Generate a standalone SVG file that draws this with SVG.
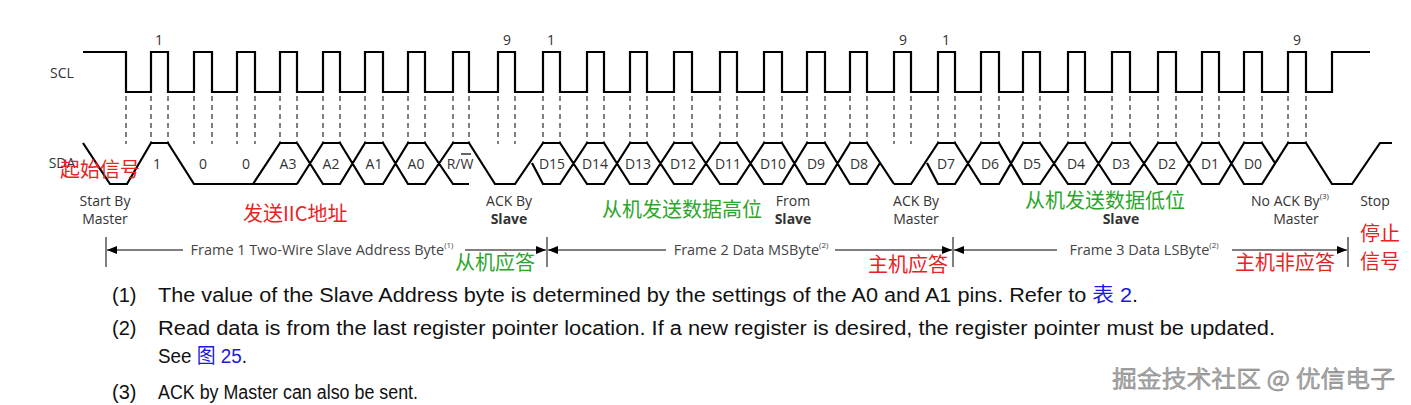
<svg xmlns="http://www.w3.org/2000/svg" width="1411" height="405" viewBox="0 0 1411 405">
<style>
.w{fill:none;stroke:#000;stroke-width:2.2;stroke-linejoin:miter}
.d{fill:none;stroke:#000;stroke-width:1;stroke-dasharray:5,4}
.t{font-family:"Open Sans","DejaVu Sans",sans-serif;font-size:14px;fill:#333;text-anchor:middle}
.b{font-weight:bold}
.f{font-family:"Open Sans","DejaVu Sans",sans-serif;font-size:14.5px;fill:#444;text-anchor:middle}
.s{font-size:8px}
.r{font-family:"Noto Sans CJK SC",sans-serif;font-size:20px;fill:#e8231f}
.g{font-family:"Noto Sans CJK SC",sans-serif;font-size:20px;fill:#2aa62a}
.n{font-family:"Liberation Sans","Noto Sans CJK SC",sans-serif;font-size:20px;fill:#111}
.bl{fill:#1a1ad8}
.a{stroke:#000;stroke-width:1;fill:none}
</style>
<defs>
<marker id="ah" markerWidth="10" markerHeight="8" refX="10" refY="4" orient="auto" markerUnits="userSpaceOnUse"><path d="M0,0L10,4L0,8z" fill="#000"/></marker>
</defs>
<g id="scl">
<text class="t" x="62" y="78">SCL</text>
<path class="w" d="M83,52H126V92H151V52H168V92H194V52H212V92H237V52H255V92H280V52H297V92H323V52H340V92H365V52H383V92H408V52H425V92H453V52H469V92H498V52H515V92H543V52H560V92H587V52H604V92H630V52H647V92H674V52H692V92H720V52H737V92H764V52H782V92H807V52H825V92H850V52H867V92H894V52H911V92H938V52H955V92H981V52H999V92H1023V52H1040V92H1068V52H1085V92H1112V52H1130V92H1158V52H1176V92H1202V52H1219V92H1244V52H1262V92H1288V52H1306V92H1332V52H1370"/>
<text class="t" x="159" y="45">1</text><text class="t" x="507" y="45">9</text><text class="t" x="551" y="45">1</text>
<text class="t" x="903" y="45">9</text><text class="t" x="946" y="45">1</text><text class="t" x="1297" y="45">9</text>
</g>
<g id="dashes">
<path class="d" d="M126,96V144M151,96V144M168,96V144M194,96V144M212,96V144M237,96V144M255,96V144M280,96V144M297,96V144M323,96V144M340,96V144M365,96V144M383,96V144M408,96V144M425,96V144M453,96V144M469,96V144M498,96V144M515,96V144M543,96V144M560,96V144M587,96V144M604,96V144M630,96V144M647,96V144M674,96V144M692,96V144M720,96V144M737,96V144M764,96V144M782,96V144M807,96V144M825,96V144M850,96V144M867,96V144M894,96V144M911,96V144M938,96V144M955,96V144M981,96V144M999,96V144M1023,96V144M1040,96V144M1068,96V144M1085,96V144M1112,96V144M1130,96V144M1158,96V144M1176,96V144M1202,96V144M1219,96V144M1244,96V144M1262,96V144M1288,96V144M1306,96V144"/>
</g>
<g id="sda">
<text class="t" x="62" y="168">SDA</text>
<path class="w" d="M83,143L110,184H127L151,143H168L194,184H297M253,184L280,143H297
M297,143L323,184H340L365,143H383L408,184H425L453,143H469L495,184H515L543,143H560L587,184H604L630,143H647L674,184H692L720,143H737L764,184H782L807,143H825L850,184H867L880,163
M894,184H911L938,143H955L981,184H999L1023,143H1040L1068,184H1085L1112,143H1130L1158,184H1176L1202,143H1219L1244,184H1262L1288,143H1306L1332,184H1352L1380,143H1392
M297,184L323,143H340L365,184H383L408,143H425L453,184H469
M532,163L543,184H560L587,143H604L630,184H647L674,143H692L720,184H737L764,143H782L807,184H825L850,143H867L894,184
M927,163L938,184H955L981,143H999L1023,184H1040L1068,143H1085L1112,184H1130L1158,143H1176L1202,184H1219L1244,143H1262L1275,163"/>
<g class="t">
<text x="157" y="169">1</text><text x="203" y="169">0</text><text x="246" y="169">0</text>
<text x="288" y="169">A3</text><text x="331" y="169">A2</text><text x="374" y="169">A1</text><text x="416" y="169">A0</text>
<text x="460" y="169">R/W</text>
<text x="552" y="169">D15</text><text x="595" y="169">D14</text><text x="638" y="169">D13</text><text x="683" y="169">D12</text>
<text x="728" y="169">D11</text><text x="773" y="169">D10</text><text x="816" y="169">D9</text><text x="859" y="169">D8</text>
<text x="946" y="169">D7</text><text x="990" y="169">D6</text><text x="1032" y="169">D5</text><text x="1076" y="169">D4</text>
<text x="1121" y="169">D3</text><text x="1167" y="169">D2</text><text x="1210" y="169">D1</text><text x="1253" y="169">D0</text>
</g>
<path d="M461,154H471" stroke="#000" stroke-width="1.2"/>
</g>
<g id="labels" class="t">
<text x="105" y="206">Start By</text><text x="105" y="224">Master</text>
<text x="509" y="206">ACK By</text><text x="509" y="224" class="b">Slave</text>
<text x="793" y="206">From</text><text x="793" y="224" class="b">Slave</text>
<text x="916" y="206">ACK By</text><text x="916" y="224">Master</text>
<text x="1121" y="224" class="b">Slave</text>
<text x="1290" y="206">No ACK By<tspan class="s" dy="-7">(3)</tspan></text><text x="1296" y="224">Master</text>
<text x="1375" y="206">Stop</text>
</g>
<g id="frames">
<path class="a" d="M106,237V267M547,237V267M953,237V267M1348,237V267"/>
<path class="a" marker-end="url(#ah)" d="M183,250H107"/>
<path class="a" marker-end="url(#ah)" d="M465,250H546"/>
<path class="a" marker-end="url(#ah)" d="M666,250H548"/>
<path class="a" marker-end="url(#ah)" d="M835,250H952"/>
<path class="a" marker-end="url(#ah)" d="M1057,250H954"/>
<path class="a" marker-end="url(#ah)" d="M1232,250H1347"/>
<text class="f" x="322" y="255">Frame 1 Two-Wire Slave Address Byte<tspan class="s" dy="-7">(1)</tspan></text>
<text class="f" x="751" y="255">Frame 2 Data MSByte<tspan class="s" dy="-7">(2)</tspan></text>
<text class="f" x="1144" y="255">Frame 3 Data LSByte<tspan class="s" dy="-7">(2)</tspan></text>
</g>
<g id="notes">
<text class="r" x="60" y="177">起始信号</text>
<text class="r" x="243" y="221">发送IIC地址</text>
<text class="g" x="455" y="270">从机应答</text>
<text class="g" x="602" y="217">从机发送数据高位</text>
<text class="r" x="868" y="272">主机应答</text>
<text class="g" x="1025" y="208">从机发送数据低位</text>
<text class="r" x="1235" y="270">主机非应答</text>
<text class="r" x="1360" y="241">停止</text>
<text class="r" x="1360" y="269">信号</text>
</g>
<g id="footnotes" class="n">
<text x="112" y="302">(1)</text>
<text x="158" y="302" textLength="980" lengthAdjust="spacingAndGlyphs">The value of the Slave Address byte is determined by the settings of the A0 and A1 pins. Refer to <tspan class="bl">表 2</tspan>.</text>
<text x="112" y="335">(2)</text>
<text x="158" y="335" textLength="1117" lengthAdjust="spacingAndGlyphs">Read data is from the last register pointer location. If a new register is desired, the register pointer must be updated.</text>
<text x="158" y="363" textLength="89" lengthAdjust="spacingAndGlyphs">See <tspan class="bl">图 25</tspan>.</text>
<text x="112" y="399">(3)</text>
<text x="158" y="399" textLength="260" lengthAdjust="spacingAndGlyphs">ACK by Master can also be sent.</text>
</g>
<text x="1112" y="387" font-family="Noto Sans CJK SC,sans-serif" font-size="23" fill="#aaa" stroke="#777" stroke-width="0.4" textLength="283" lengthAdjust="spacingAndGlyphs">掘金技术社区 @ 优信电子</text>
</svg>
